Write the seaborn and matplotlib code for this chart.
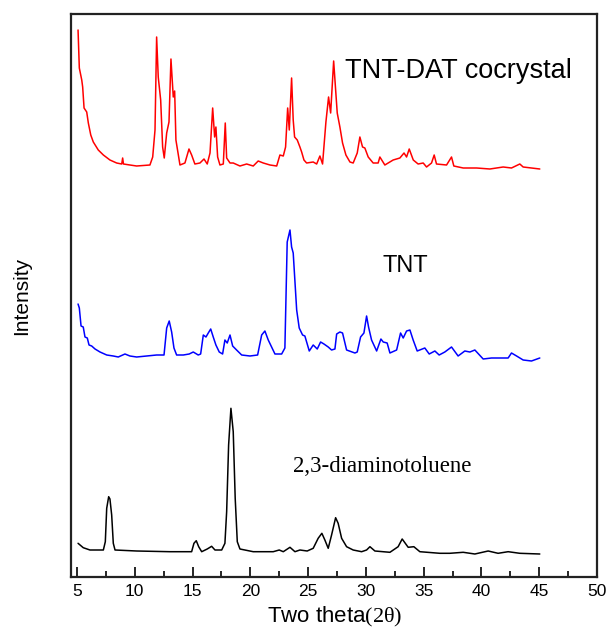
import pandas as pd
import matplotlib
matplotlib.use("Agg")
import matplotlib.pyplot as plt
import seaborn as sns

# two theta (deg) and intensity (arb. units, traces already offset)
cocrystal_2theta = [5.09, 5.2, 5.41, 5.49, 5.61, 5.84, 5.98, 6.19, 6.41, 6.84, 7.28, 7.85, 8.43,
                    8.87, 8.95, 9.02, 9.58, 10.16, 11.31, 11.55, 11.75, 11.89, 12.03, 12.24,
                    12.41, 12.55, 12.76, 12.96, 13.13, 13.33, 13.45, 13.56, 13.91,
                    14.34, 14.69, 14.92, 15.2,
                    15.64, 15.99, 16.27, 16.51, 16.74, 16.91, 17.02, 17.17, 17.37, 17.66,
                    17.83, 17.95, 18.24, 18.52, 19.1, 19.68, 20.25, 20.68, 21.12, 21.7,
                    22.28, 22.56, 22.85, 23.05, 23.23, 23.37, 23.57, 23.71, 23.83, 24.06,
                    24.29, 24.44, 24.64, 24.87, 25.44, 25.74, 26.02, 26.25, 26.54, 26.77,
                    26.95, 27.21, 27.34, 27.52, 27.75, 27.98, 28.27, 28.62, 28.9, 29.25,
                    29.48, 29.71, 29.91, 30.2, 30.63, 31.06, 31.21,
                    31.64, 32.36, 32.94, 33.3, 33.52, 33.75, 34.1, 34.52, 34.96, 35.25,
                    35.68, 35.91, 36.11, 36.98, 37.41, 37.61, 38.42, 39.58, 40.73, 41.88,
                    42.6, 43.32, 43.61, 45.05]
cocrystal_int = [548, 510, 498, 491, 470, 466, 455, 443, 436, 428, 423, 418, 415,
                 414, 420, 414, 413, 412, 413, 421, 448, 541, 501, 478,
                 431, 420, 445, 456, 519, 481, 487, 438, 413,
                 415, 429, 423, 414,
                 415, 419, 414, 425, 470, 441, 451, 421, 413, 414,
                 455, 420, 415, 415, 412, 414, 412, 417, 415, 413,
                 412, 423, 422, 431, 470, 448, 500, 458, 441, 438,
                 431, 426, 418, 415, 416, 414, 422, 414, 456, 481,
                 465, 517, 495, 465, 451, 435, 423, 416, 415, 425,
                 441, 431, 430, 421, 415, 415, 421,
                 413, 418, 420, 425, 421, 429, 418, 414, 415, 411,
                 415, 423, 414, 413, 421, 412, 410, 410, 409, 411,
                 410, 414, 411, 409]

tnt_2theta = [5.09, 5.2, 5.35, 5.54, 5.69, 5.89, 6.04, 6.27, 6.56, 6.99,
              7.57, 8.14, 8.57, 9.15, 9.58, 10.16, 11.03, 11.89, 12.53, 12.76,
              12.98, 13.19, 13.39, 13.62, 14.2, 14.71, 15.06, 15.49, 15.7, 15.93,
              16.16, 16.36, 16.57, 16.79, 17.02, 17.31, 17.6, 17.8, 18.0, 18.24,
              18.47, 18.81, 19.25, 19.97, 20.63, 20.98, 21.26, 21.55, 21.84, 22.13,
              22.71, 22.99, 23.19, 23.43, 23.57, 23.71, 24.01, 24.23, 24.52, 24.72,
              25.1, 25.44, 25.79, 26.08, 26.37, 26.74, 27.03, 27.32, 27.47, 27.75,
              27.98, 28.33, 29.05, 29.25, 29.54, 29.83, 30.06, 30.23, 30.49, 30.93,
              31.3, 31.5, 31.84, 32.08, 32.66, 33.0, 33.23, 33.52, 33.81, 34.09,
              34.44, 35.1, 35.48, 35.97, 36.34, 36.83, 37.41, 37.98, 38.56, 39.0,
              39.43, 40.15, 40.87, 41.88, 42.31, 42.6, 43.04, 43.61, 44.33, 45.05]
tnt_int = [274, 270, 252, 251, 241, 240, 233, 232, 229, 226,
           223, 222, 221, 224, 222, 221, 222, 223, 223, 250,
           257, 246, 230, 223, 223, 224, 226, 223, 224, 243,
           241, 245, 249, 241, 233, 226, 224, 238, 235, 243,
           232, 228, 223, 222, 223, 243, 247, 238, 231, 224,
           224, 230, 336, 348, 331, 325, 268, 250, 243, 242,
           227, 233, 229, 236, 234, 231, 228, 229, 244, 246,
           245, 228, 225, 226, 241, 245, 262, 251, 238, 227,
           239, 236, 235, 225, 228, 245, 240, 247, 248, 238,
           227, 230, 224, 227, 223, 226, 231, 222, 227, 226,
           228, 219, 220, 220, 220, 225, 222, 218, 217, 220]

dat_2theta = [5.09, 5.54, 6.12, 7.28, 7.45, 7.57, 7.74, 7.85, 8.0, 8.14, 8.29,
              10.16, 13.04, 14.92, 15.12, 15.32, 15.53, 15.79, 16.27, 16.65, 16.94,
              17.52, 17.8, 17.95, 18.12, 18.32, 18.52, 18.69, 18.87, 19.1,
              20.25, 21.98, 22.5, 22.85, 23.43, 23.86, 24.29, 24.92, 25.44,
              25.87, 26.19, 26.45, 26.74, 27.03, 27.38, 27.6, 27.9, 28.33,
              28.9, 29.63, 30.06, 30.35, 30.78, 32.08, 32.79, 33.14, 33.66, 34.15,
              34.67, 36.4, 37.26, 38.42, 39.43, 40.58, 41.44, 42.31, 43.32, 45.05]
dat_int = [34.7, 30.3, 28, 28, 36.3, 69.7, 81.3, 79, 63, 34.7, 28,
           27, 26.3, 26.3, 34.7, 37.3, 31.3, 26.3, 29, 31.7, 28,
           28, 34.7, 66.3, 133, 169.7, 146.3, 79.7, 36.3, 29,
           26.3, 26.3, 28, 26.3, 30.7, 26.3, 28, 27, 29.7,
           39.7, 44.7, 38, 29.7, 43, 60.3, 54.7, 39.7, 31.3,
           28, 26.3, 28, 31.3, 27, 25.7, 31.3, 39, 30.7, 31.3,
           26.3, 24.7, 24.7, 25.7, 24, 27, 24.7, 26.3, 24.7, 24]

labels = ["TNT-DAT cocrystal", "TNT", "2,3-diaminotoluene"]
colors = ["#ff0000", "#0000ff", "#000000"]
xticks = [5, 10, 15, 20, 25, 30, 35, 40, 45, 50]
xticks_minor = [7.5, 12.5, 17.5, 22.5, 27.5, 32.5, 37.5, 42.5, 47.5]

sns.set_style("ticks")
plt.rcParams["font.family"] = ["Liberation Sans", "DejaVu Sans"]
plt.rcParams["mathtext.fontset"] = "custom"
plt.rcParams["mathtext.rm"] = "Liberation Serif"
plt.rcParams["text.color"] = "black"
plt.rcParams["axes.labelcolor"] = "black"
plt.rcParams["xtick.color"] = "black"

fig = plt.figure(figsize=(6.1, 6.31), dpi=100)
ax = fig.add_axes([71 / 610, 54 / 631, 526 / 610, 563 / 631])

series = [(cocrystal_2theta, cocrystal_int), (tnt_2theta, tnt_int), (dat_2theta, dat_int)]
for (xs, ys), lab, col in zip(series, labels, colors):
    df = pd.DataFrame({"two_theta": xs, "intensity": ys})
    sns.lineplot(data=df, x="two_theta", y="intensity", color=col, lw=1.1, ax=ax,
                 estimator=None, sort=False)

ax.text(28.18, 507, labels[0], fontsize=19.5, va="center", ha="left")
ax.text(31.47, 312, labels[1], fontsize=17, va="center", ha="left")
ax.text(23.68, 112, labels[2], fontsize=16.5, va="center", ha="left",
        family="Liberation Serif")

ax.set_xlim(4.48, 50)
ax.set_ylim(1, 564)
ax.set_xticks(xticks)
ax.set_xticklabels([str(t) for t in xticks])
ax.set_xticks(xticks_minor, minor=True)
ax.tick_params(axis="x", which="major", direction="in", length=7, width=1.2,
               labelsize=12.5, pad=5, labelbottom=True)
ax.tick_params(axis="x", which="minor", direction="in", length=4, width=1.2)
ax.set_yticks([])
for s in ax.spines.values():
    s.set_linewidth(1.6)
    s.set_color("#222222")

ax.set_xlabel(r"Two theta$\mathrm{(2\theta)}$", fontsize=16, va="center")
ax.xaxis.set_label_coords(0.502, -40 / 563)
ax.set_ylabel("Intensity", fontsize=15, va="center",
              family=["Liberation Sans Narrow", "Liberation Sans"])
ax.yaxis.set_label_coords(-49 / 526, 0.5)

fig.savefig("out.png", dpi=100)
